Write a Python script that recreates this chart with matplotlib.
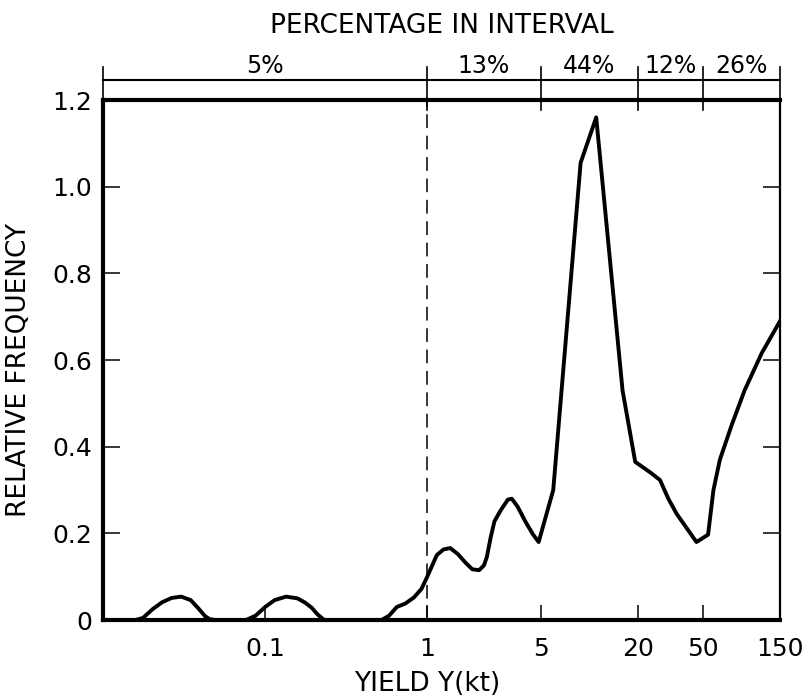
import matplotlib
matplotlib.use('Agg')
import matplotlib.pyplot as plt
import matplotlib.transforms as mtransforms
from matplotlib.ticker import NullLocator

# yield (kt) and relative frequency
Yield = [0.0101, 0.01347, 0.01585, 0.01767, 0.02022, 0.02315, 0.02652, 0.03037,
         0.03476, 0.03875, 0.04260, 0.04558, 0.04942, 0.07627, 0.08733, 0.1,
         0.1145, 0.1347, 0.1585, 0.1767, 0.1942, 0.2106, 0.2315, 0.5221,
         0.5817, 0.6483, 0.7323, 0.8273, 0.9220, 1.0, 1.146, 1.261,
         1.387, 1.547, 1.726, 1.898, 2.089, 2.236, 2.330, 2.460,
         2.598, 2.858, 3.146, 3.322, 3.605, 4.021, 4.483, 4.866,
         5.987, 8.830, 11.02, 16.02, 19.18, 23.88, 27.28, 30.70,
         34.56, 45.77, 53.97, 58.26, 63.83, 75.49, 90.66, 115.7, 150]
Freq = [0, 0, 0, 0.005, 0.025, 0.041, 0.051, 0.054,
        0.046, 0.027, 0.009, 0.002, 0, 0, 0.01, 0.03,
        0.046, 0.054, 0.05, 0.04, 0.028, 0.013, 0, 0,
        0.01, 0.03, 0.038, 0.052, 0.072, 0.1, 0.15, 0.163,
        0.166, 0.152, 0.132, 0.117, 0.115, 0.126, 0.145, 0.19,
        0.228, 0.255, 0.278, 0.28, 0.262, 0.228, 0.198, 0.18,
        0.3, 1.055, 1.16, 0.53, 0.365, 0.34, 0.323, 0.28,
        0.245, 0.18, 0.197, 0.3, 0.37, 0.45, 0.53, 0.616, 0.69]

# percentage intervals on top
IntervalEdges = [0.01, 1, 5, 20, 50, 150]
IntervalPct = ['5%', '13%', '44%', '12%', '26%']

XTicks = [0.1, 1, 5, 20, 50, 150]
XTickLabels = ['0.1', '1', '5', '20', '50', '150']
YTicks = [0, 0.2, 0.4, 0.6, 0.8, 1.0, 1.2]
YTickLabels = ['0', '0.2', '0.4', '0.6', '0.8', '1.0', '1.2']

fig = plt.figure(figsize=(8.09, 6.98), dpi=100)
ax = fig.add_axes([0.1273, 0.1117, 0.8369, 0.745])

ax.plot(Yield, Freq, color='black', lw=2.8, solid_joinstyle='round', zorder=5)
ax.axvline(1, color='black', lw=1.1, dashes=(9, 5), zorder=3)

ax.set_xscale('log')
ax.set_xlim(0.01, 150)
ax.set_ylim(0, 1.2)
ax.set_xticks(XTicks, XTickLabels)
ax.set_yticks(YTicks, YTickLabels)
ax.xaxis.set_minor_locator(NullLocator())

ax.tick_params(axis='x', direction='in', length=11, width=1.1, labelsize=18, pad=12)
ax.tick_params(axis='y', direction='in', length=12, width=1.1, labelsize=18, pad=8,
               right=True)

for side in ['left', 'bottom', 'top']:
    ax.spines[side].set_linewidth(3)
ax.spines['right'].set_linewidth(1.6)

ax.set_xlabel('YIELD Y(kt)', fontsize=19)
ax.xaxis.set_label_coords(0.479, -0.098)
ax.set_ylabel('RELATIVE FREQUENCY', fontsize=19)
ax.yaxis.set_label_coords(-0.105, 0.48)
ax.set_title('PERCENTAGE IN INTERVAL', fontsize=19, y=1.142, va='center', pad=0)

# percentage band above the plot
trans = mtransforms.blended_transform_factory(ax.transData, ax.transAxes)
ax.plot([IntervalEdges[0], IntervalEdges[-1]], [1.0385, 1.0385], color='black',
        lw=1.5, transform=trans, clip_on=False)
for i, edge in enumerate(IntervalEdges):
    low = 1.0 if i in (0, len(IntervalEdges) - 1) else 0.981
    ax.plot([edge, edge], [low, 1.0635], color='black', lw=1.2,
            transform=trans, clip_on=False)
for i, pct in enumerate(IntervalPct):
    mid = (IntervalEdges[i] * IntervalEdges[i + 1]) ** 0.5
    ax.text(mid, 1.043, pct, transform=trans, ha='center', va='bottom', fontsize=17)

plt.savefig('out.png', dpi=100)
